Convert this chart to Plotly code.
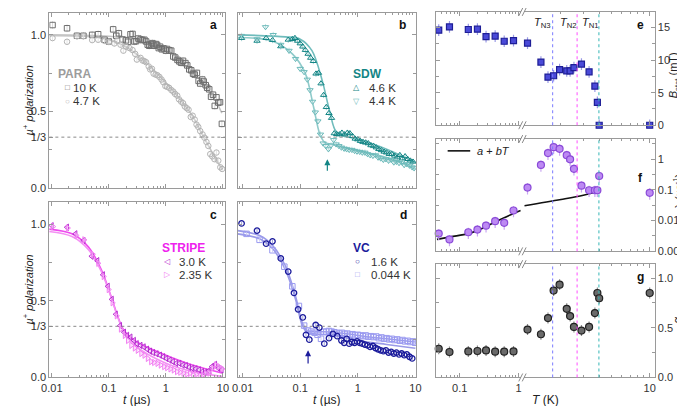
import plotly.graph_objects as go
import math

# ---------------- data: panels a-d (t in microseconds, muon polarization) ----------------
t_10K = [0.0103,0.0185,0.0276,0.0358,0.051,0.065,0.084,0.1,0.119,0.135,0.15,0.174,0.2,0.217,0.24,0.26,0.28,0.30,0.33,0.36,0.39,0.42,0.45,0.48,0.51,0.55,0.58,0.62,0.67,0.70,0.75,0.79,0.85,0.91,1.0,1.05,1.15,1.24,1.35,1.46,1.6,1.72,1.85,2.0,2.2,2.37,2.57,2.78,3.0,3.2,3.5,3.75,4.0,4.35,4.6,5.0,5.3,5.75,6.2,6.7,7.2,7.7,8.3,8.9,9.6]
P_10K = [1.064,1.043,0.994,0.994,1.0,1.004,0.968,0.957,1.036,0.994,1.01,0.97,0.964,0.955,1.004,1.006,0.957,0.959,0.976,0.97,0.966,0.968,0.957,0.936,0.929,0.938,0.946,0.929,0.94,0.934,0.914,0.923,0.906,0.912,0.897,0.908,0.9,0.897,0.859,0.852,0.837,0.827,0.818,0.831,0.816,0.801,0.775,0.769,0.747,0.741,0.752,0.7,0.683,0.709,0.696,0.672,0.655,0.645,0.597,0.61,0.537,0.593,0.559,0.561,0.42]
t_4p7K = [0.0103,0.0185,0.0276,0.0358,0.051,0.065,0.084,0.1,0.125,0.14,0.16,0.18,0.2,0.23,0.26,0.29,0.31,0.36,0.39,0.42,0.45,0.5,0.53,0.57,0.61,0.66,0.71,0.77,0.84,0.9,0.98,1.05,1.14,1.25,1.35,1.45,1.58,1.7,1.85,2.0,2.15,2.33,2.5,2.73,2.95,3.2,3.45,3.7,4.0,4.4,4.75,5.15,5.55,6.0,6.5,7.1,7.7,8.3,9.0,9.7]
P_4p7K = [0.979,0.955,0.991,0.991,0.966,0.968,0.961,0.955,0.944,0.961,0.936,0.897,0.923,0.914,0.901,0.876,0.839,0.85,0.833,0.829,0.822,0.794,0.775,0.779,0.747,0.741,0.737,0.726,0.709,0.692,0.666,0.662,0.655,0.64,0.63,0.615,0.604,0.58,0.565,0.555,0.533,0.522,0.512,0.465,0.473,0.448,0.415,0.4,0.373,0.351,0.33,0.302,0.276,0.223,0.208,0.19,0.233,0.18,0.137,0.126]
fit_a10_t = [0.0085,0.1,0.31,0.62,1.0,1.72,2.95,5.0,7.3,9.6]
fit_a10 = [1.0,0.991,0.972,0.94,0.908,0.833,0.758,0.662,0.576,0.49]
fit_a47_t = [0.0085,0.065,0.16,0.36,0.62,1.0,1.72,2.95,4.35,6.5,9.6]
fit_a47 = [0.994,0.983,0.94,0.854,0.769,0.687,0.587,0.469,0.351,0.233,0.126]

t_4p6K = [0.0096,0.0178,0.0256,0.033,0.046,0.062,0.073,0.081,0.09,0.1,0.111,0.123,0.137,0.152,0.169,0.188,0.208,0.23,0.255,0.284,0.316,0.35,0.39,0.43,0.48,0.53,0.59,0.66,0.73,0.81,0.9,1.0,1.11,1.23,1.37,1.52,1.69,1.88,2.09,2.32,2.57,2.86,3.16,3.52,3.9,4.35,4.83,5.37,5.96,6.63,7.36,8.18,9.1]
P_4p6K = [0.979,0.961,0.979,0.966,0.925,0.968,0.972,0.979,0.961,0.944,0.923,0.901,0.876,0.85,0.829,0.747,0.752,0.683,0.608,0.529,0.49,0.458,0.358,0.353,0.351,0.362,0.351,0.362,0.358,0.34,0.323,0.319,0.308,0.302,0.298,0.293,0.28,0.276,0.266,0.255,0.248,0.238,0.233,0.223,0.223,0.212,0.201,0.216,0.195,0.208,0.19,0.18,0.173]
t_4p4K = [0.0096,0.0178,0.025,0.034,0.046,0.064,0.083,0.1,0.117,0.133,0.148,0.164,0.183,0.203,0.225,0.25,0.278,0.309,0.343,0.38,0.42,0.47,0.52,0.58,0.64,0.71,0.79,0.88,0.97,1.08,1.2,1.33,1.48,1.64,1.83,2.03,2.25,2.5,2.78,3.08,3.42,3.8,4.22,4.68,5.2,5.77,6.4,7.1,7.9,8.8,9.5]
P_4p4K = [0.994,0.972,1.051,1.0,0.936,0.897,0.844,0.779,0.758,0.709,0.64,0.565,0.495,0.437,0.351,0.293,0.276,0.255,0.28,0.315,0.287,0.276,0.266,0.259,0.255,0.251,0.251,0.244,0.24,0.238,0.233,0.233,0.223,0.216,0.212,0.216,0.201,0.195,0.186,0.19,0.18,0.186,0.169,0.173,0.165,0.169,0.152,0.158,0.148,0.137,0.131]
fit_b46_t = [0.0082,0.056,0.1,0.16,0.24,0.31,0.40,0.49,1.0,3.16,10]
fit_b46 = [1.0,0.987,0.972,0.897,0.705,0.533,0.383,0.351,0.319,0.255,0.169]
fit_b44_t = [0.0082,0.0316,0.073,0.123,0.17,0.22,0.27,0.35,1.0,3.16,10]
fit_b44 = [0.983,0.961,0.876,0.747,0.533,0.351,0.298,0.287,0.244,0.201,0.126]

t_3p0K = [0.01,0.0185,0.026,0.036,0.05,0.063,0.079,0.096,0.113,0.133,0.158,0.185,0.21,0.24,0.276,0.31,0.36,0.41,0.47,0.53,0.6,0.69,0.79,0.9,1.02,1.17,1.33,1.52,1.73,1.98,2.25,2.56,2.92,3.33,3.8,4.33,4.94,5.63,6.42,7.32,8.34,9.5]
P_3p0K = [0.989,0.979,0.936,0.893,0.79,0.761,0.669,0.594,0.509,0.412,0.338,0.295,0.274,0.263,0.241,0.22,0.209,0.199,0.184,0.171,0.162,0.154,0.145,0.135,0.124,0.113,0.103,0.092,0.092,0.081,0.077,0.066,0.06,0.056,0.049,0.038,0.034,0.043,0.071,0.085,0.06,0.049]
t_2p35K = [0.0105,0.019,0.027,0.037,0.052,0.065,0.081,0.099,0.116,0.137,0.162,0.19,0.216,0.247,0.284,0.32,0.37,0.42,0.48,0.55,0.62,0.71,0.81,0.93,1.05,1.2,1.37,1.56,1.78,2.03,2.31,2.63,3.0,3.42,3.9,4.45,5.07,5.78,6.6,7.52,8.57,9.75]
P_2p35K = [0.983,0.974,0.925,0.897,0.803,0.744,0.658,0.573,0.487,0.402,0.316,0.274,0.241,0.209,0.192,0.177,0.156,0.145,0.124,0.103,0.098,0.092,0.081,0.071,0.064,0.056,0.049,0.038,0.034,0.028,0.021,0.026,0.017,0.021,0.013,0.017,0.024,0.028,0.06,0.081,0.071,0.056]
fit_c_t = [0.0082,0.0226,0.044,0.074,0.109,0.142,0.185,0.31,1.0,2.92,10]
fit_c30 = [0.968,0.936,0.85,0.701,0.53,0.402,0.306,0.231,0.145,0.081,0.028]
fit_c235 = [0.953,0.919,0.833,0.69,0.526,0.397,0.295,0.199,0.092,0.038,0.006]

t_1p6K = [0.0096,0.0178,0.0256,0.033,0.046,0.062,0.078,0.092,0.111,0.126,0.144,0.186,0.215,0.262,0.316,0.37,0.44,0.52,0.58,0.64,0.71,0.79,0.88,0.97,1.08,1.2,1.33,1.48,1.64,1.83,2.03,2.25,2.5,2.78,3.08,3.42,3.8,4.22,4.68,5.2,5.77,6.4,7.1,7.9,8.8]
P_1p6K = [1.004,0.957,0.872,0.887,0.776,0.69,0.551,0.444,0.391,0.278,0.246,0.342,0.325,0.22,0.256,0.284,0.269,0.241,0.226,0.252,0.22,0.231,0.226,0.235,0.226,0.22,0.214,0.209,0.199,0.205,0.192,0.184,0.177,0.171,0.177,0.162,0.167,0.156,0.162,0.15,0.156,0.145,0.15,0.135,0.124]
t_0p044K = [0.0117,0.0197,0.033,0.053,0.073,0.095,0.117,0.137,0.156,0.178,0.2,0.23,0.256,0.284,0.316,0.35,0.39,0.43,0.48,0.53,0.59,0.66,0.73,0.81,0.9,1.0,1.11,1.23,1.37,1.52,1.69,1.88,2.09,2.32,2.57,2.86,3.16,3.52,3.9,4.35,4.83,5.37,5.96,6.63,7.36,8.18,9.1,9.9]
P_0p044K = [0.936,0.897,0.829,0.722,0.594,0.466,0.338,0.306,0.299,0.291,0.278,0.252,0.297,0.299,0.303,0.299,0.295,0.291,0.286,0.291,0.284,0.286,0.278,0.282,0.274,0.278,0.274,0.269,0.274,0.265,0.269,0.263,0.267,0.256,0.261,0.252,0.256,0.248,0.252,0.244,0.248,0.239,0.244,0.235,0.239,0.231,0.235,0.226]
fit_d_t = [0.0082,0.0197,0.033,0.056,0.083,0.108,0.131,0.18,0.4,1.0,3.16,10]
fit_d1 = [0.957,0.925,0.861,0.722,0.53,0.359,0.306,0.299,0.295,0.274,0.252,0.231]
fit_d2 = [0.936,0.904,0.84,0.697,0.509,0.342,0.295,0.284,0.274,0.241,0.215,0.19]

# ---------------- data: panels e-g (T in K) ----------------
T_low = [0.044,0.067,0.14,0.20,0.28,0.40,0.57,0.82]
T_high = [1.09,1.39,1.58,1.75,1.95,2.22,2.36,2.53,2.9,3.33,3.70,3.87,4.0,10.0]
Bstat_low = [14.6,15.1,14.7,14.75,13.6,13.7,12.9,13.0]
Bstat_high = [12.6,9.7,7.4,7.6,8.55,8.35,8.35,8.85,9.4,8.2,6.0,3.5,0.0,0.0]
lam_low = [0.0037,0.0024,0.0041,0.005,0.0067,0.0094,0.0083,0.021]
lam_high = [0.117,0.64,1.56,2.43,2.15,1.34,0.98,0.48,0.135,0.096,0.096,0.096,0.28,0.079]
alpha_low = [0.289,0.256,0.262,0.266,0.272,0.259,0.259,0.262]
alpha_high = [0.482,0.435,0.598,0.874,0.934,0.691,0.618,0.508,0.472,0.508,0.648,0.85,0.797,0.85]
fitlin_T_low = [0.041,0.07,0.14,0.2,0.4,0.8,1.08]
fitlin_low = [0.0024,0.0029,0.0037,0.0047,0.0088,0.0165,0.021]
fitlin_T_high = [1.03,2.0,3.0,4.0]
fitlin_high = [0.030,0.048,0.066,0.089]
T_N = {"N3": 1.72, "N2": 2.68, "N1": 3.98}

# ---------------- styling ----------------
FONT = "Liberation Sans, Arial, sans-serif"
AX = "#9a9a9a"
W, H = 685, 406

def fx(p):
    return p / W

def fy(p):
    return 1 - p / H

fig = go.Figure()

def sc(x, y, xa, ya, **kw):
    fig.add_trace(go.Scatter(x=x, y=y, xaxis=xa, yaxis=ya, showlegend=False, **kw))

def pts(x, y, xa, ya, sym, col, ecol, err, lw=1):
    sc(x, y, xa, ya, mode="markers",
       marker=dict(symbol=sym, size=5.5, color=col, line=dict(width=lw, color=col)),
       error_y=dict(type="constant", value=err, color=ecol, thickness=0.8, width=0))

def fitline(x, y, xa, ya, col, w=1.6):
    sc(x, y, xa, ya, mode="lines", line=dict(color=col, width=w, shape="spline", smoothing=0.9),
       hoverinfo="skip")

# panel a
fitline(fit_a10_t, fit_a10, "x", "y", "#c4c4c4")
fitline(fit_a47_t, fit_a47, "x", "y", "#c4c4c4")
pts(t_10K, P_10K, "x", "y", "square-open", "#6e6e6e", "#cfcfcf", 0.025)
pts(t_4p7K, P_4p7K, "x", "y", "circle-open", "#b4b4b4", "#dedede", 0.02)
# panel b
fitline(fit_b46_t, fit_b46, "x2", "y2", "#6fbcbc")
fitline(fit_b44_t, fit_b44, "x2", "y2", "#8fcaca")
pts(t_4p6K, P_4p6K, "x2", "y2", "triangle-up-open", "#138585", "#8cc6c6", 0.02)
pts(t_4p4K, P_4p4K, "x2", "y2", "triangle-down-open", "#6cbaba", "#b5dcdc", 0.02)
# panel c
fitline(fit_c_t, fit_c30, "x3", "y3", "#ee4aee")
fitline(fit_c_t, fit_c235, "x3", "y3", "#f490f4")
pts(t_3p0K, P_3p0K, "x3", "y3", "triangle-left-open", "#b62ad0", "#e6a8ee", 0.015)
pts(t_2p35K, P_2p35K, "x3", "y3", "triangle-right-open", "#f27ef2", "#f8c4f8", 0.015)
# panel d
fitline(fit_d_t, fit_d1, "x4", "y4", "#9a9ae8")
fitline(fit_d_t, fit_d2, "x4", "y4", "#9a9ae8")
pts(t_0p044K, P_0p044K, "x4", "y4", "square-open", "#9a9af0", "#c8c8f6", 0.012)
pts(t_1p6K, P_1p6K, "x4", "y4", "circle-open", "#1c1c9c", "#9090d0", 0.012, lw=1.3)

# panels e-g
def tpts(x, y, xa, ya, sym, fill, edge, size, err):
    sc(x, y, xa, ya, mode="markers", cliponaxis=False,
       marker=dict(symbol=sym, size=size, color=fill, line=dict(width=1.2, color=edge)),
       error_y=err)

e_err = dict(type="constant", value=0.9, color="#9a9ae6", thickness=1.2, width=0)
f_err = dict(type="percent", value=40, color="#caa6f2", thickness=1.2, width=0)
g_err = dict(type="constant", value=0.055, color="#8a8a8a", thickness=1.2, width=0)
tpts(T_low, Bstat_low, "x5", "y5", "square", "#4a4ad8", "#1e1e96", 6, e_err)
tpts(T_high, Bstat_high, "x6", "y6", "square", "#4a4ad8", "#1e1e96", 6, e_err)
sc(fitlin_T_low, fitlin_low, "x7", "y7", mode="lines", line=dict(color="#111", width=1.6, shape="spline"))
sc(fitlin_T_high, fitlin_high, "x8", "y8", mode="lines", line=dict(color="#111", width=1.6, shape="spline"))
tpts(T_low, lam_low, "x7", "y7", "circle", "#bd8af3", "#8a4ad8", 7, f_err)
tpts(T_high, lam_high, "x8", "y8", "circle", "#bd8af3", "#8a4ad8", 7, f_err)
tpts(T_low, alpha_low, "x9", "y9", "circle", "#6a6a6a", "#202020", 7, g_err)
tpts(T_high, alpha_high, "x10", "y10", "circle", "#6a6a6a", "#202020", 7, g_err)

# ---------------- axes ----------------
base = dict(showline=True, linecolor=AX, linewidth=1, ticks="inside", tickcolor=AX, ticklen=4,
            tickwidth=1, showgrid=False, zeroline=False,
            tickfont=dict(family=FONT, size=11, color="#333"))
log_minor = [m * 10 ** e for e in range(-3, 2) for m in range(2, 10)]
minor_log = dict(ticks="inside", ticklen=2, tickcolor=AX, tickvals=log_minor)

def taxis(x0, x1, rng, labels, anchor):
    return dict(base, type="log", domain=[fx(x0), fx(x1)], range=rng, anchor=anchor,
                tickvals=[0.01, 0.1, 1, 10], ticktext=["0.01", "0.1", "1", "10"],
                showticklabels=labels, mirror="allticks", minor=minor_log)

def paxis(y0, y1, labels, anchor):
    return dict(base, domain=[fy(y1), fy(y0)], range=[0, 1.143], anchor=anchor,
                tickvals=[0, 1 / 3, 0.5, 1.0], ticktext=["0.0", "1/3", "0.5", "1.0"],
                showticklabels=labels, mirror="allticks",
                minor=dict(ticks="inside", ticklen=3, tickcolor=AX, tickvals=[0.25, 0.75]))

rng_ac = [-2.043, 1.036]
rng_bd = [-2.085, 1.015]
lay = dict(
    xaxis=taxis(34, 213, rng_ac, False, "y"), yaxis=paxis(5, 183, True, "x"),
    xaxis2=taxis(226, 408, rng_bd, False, "y2"), yaxis2=paxis(5, 183, False, "x2"),
    xaxis3=taxis(34, 213, rng_ac, True, "y3"), yaxis3=paxis(197, 375, True, "x3"),
    xaxis4=taxis(226, 408, rng_bd, True, "y4"), yaxis4=paxis(197, 375, False, "x4"),
)

rows = {  # (left x id, right x id, y-top px, y-bottom px, y settings)
    "e": (5, 6, 4, 119, dict(range=[0, 17.4], tickvals=[0, 5, 10, 15], ticktext=["0", "5", "10", "15"],
                             minor=dict(ticks="inside", ticklen=3, tickcolor=AX, tickvals=[2.5, 7.5, 12.5]))),
    "f": (7, 8, 133, 247, dict(type="log", range=[-3.01, 0.652], tickvals=[0.001, 0.01, 0.1, 1],
                               ticktext=["0.001", "0.01", "0.1", "1"],
                               minor=dict(ticks="inside", ticklen=3, tickcolor=AX,
                                          tickvals=[0.00316, 0.0316, 0.316, 3.16]))),
    "g": (9, 10, 260, 375, dict(range=[0, 1.14], tickvals=[0, 0.5, 1.0], ticktext=["0.0", "0.5", "1.0"],
                                minor=dict(ticks="inside", ticklen=3, tickcolor=AX, tickvals=[0.25, 0.75]))),
}
for key, (il, ir, yt, yb, yset) in rows.items():
    lab = key == "g"
    lay[f"xaxis{il}"] = dict(base, type="log", domain=[fx(428), fx(515)], range=[-1.405, 0.045],
                             anchor=f"y{il}", tickvals=[0.1, 1], ticktext=["0.1", "1"],
                             showticklabels=lab, mirror="allticks", minor=minor_log)
    lay[f"xaxis{ir}"] = dict(base, type="log", domain=[fx(518), fx(651)], range=[0.011, 1.039],
                             anchor=f"y{ir}", tickvals=[10], ticktext=["10"],
                             showticklabels=lab, mirror="allticks", minor=minor_log)
    lay[f"yaxis{il}"] = dict(base, domain=[fy(yb), fy(yt)], anchor=f"x{il}", side="left",
                             showticklabels=False, **yset)
    lay[f"yaxis{ir}"] = dict(base, domain=[fy(yb), fy(yt)], anchor=f"x{ir}", side="right",
                             showticklabels=True, **yset)

# ---------------- shapes ----------------
shapes = []
for ya, xa in [("y", "x"), ("y2", "x2"), ("y3", "x3"), ("y4", "x4")]:
    shapes.append(dict(type="line", xref=f"{xa} domain", yref=ya, x0=0, x1=1, y0=1 / 3, y1=1 / 3,
                       line=dict(color="#8a8a8a", width=1, dash="dot")))
tn_cols = {"N3": "#7b7bff", "N2": "#ff4dff", "N1": "#33b5b5"}
for xr in (6, 8, 10):
    for k, T in T_N.items():
        shapes.append(dict(type="line", xref=f"x{xr}", yref=f"y{xr} domain", x0=T, x1=T, y0=0, y1=1,
                           line=dict(color=tn_cols[k], width=1, dash="dot")))
# legend key line for a + bT
shapes.append(dict(type="line", xref="paper", yref="paper", x0=fx(440), x1=fx(463), y0=fy(145), y1=fy(145),
                   line=dict(color="#111", width=1.6)))
# axis break marks "//"
for yb in (4, 119, 133, 247, 260, 375):
    for dx in (0, 3.5):
        shapes.append(dict(type="line", xref="paper", yref="paper",
                           x0=fx(512.5 + dx), x1=fx(516.5 + dx), y0=fy(yb + 4), y1=fy(yb - 4),
                           line=dict(color="#8a8a8a", width=1)))

# ---------------- annotations ----------------
anns = []

def ann(x, y, text, size=11, color="#222", xanchor="center", angle=0, **kw):
    anns.append(dict(x=fx(x), y=fy(y), xref="paper", yref="paper", text=text, showarrow=False,
                     xanchor=xanchor, yanchor="middle", textangle=angle, borderpad=0,
                     font=dict(family=FONT, size=size, color=color), **kw))

for letter, x, y in [("a", 201, 17), ("b", 394, 17), ("c", 201, 210), ("d", 395, 210),
                     ("e", 637, 17), ("f", 637, 173), ("g", 637, 273)]:
    ann(x, y, f"<b>{letter}</b>", size=12, color="#111")

# legends (text + symbol glyphs)
def legend(x_title, y_title, title, tcol, x_sym, x_txt, entries):
    ann(x_title, y_title, f"<b>{title}</b>", size=12, color=tcol, xanchor="left")
    for (y, glyph, gcol, lab) in entries:
        ann(x_sym, y, glyph, size=8, color=gcol)
        ann(x_txt, y, lab, size=11.5, color="#333", xanchor="left")

legend(42, 67, "PARA", "#9c9c9c", 52.5, 57.5,
       [(81, "□", "#6e6e6e", "10 K"), (94.5, "○", "#b4b4b4", "4.7 K")])
legend(342, 67, "SDW", "#138585", 347, 359,
       [(81, "△", "#138585", "4.6 K"), (94.5, "▽", "#6cbaba", "4.4 K")])
legend(148, 243.5, "STRIPE", "#ee22ee", 154, 165,
       [(257.5, "◁", "#b62ad0", "3.0 K"), (271, "▷", "#f27ef2", "2.35 K")])
legend(343, 243.5, "VC", "#1c1c9c", 348, 360.5,
       [(257.5, "○", "#1c1c9c", "1.6 K"), (271, "□", "#9a9af0", "0.044 K")])
ann(469, 145, "<i>a</i> + <i>bT</i>", size=11, color="#222", xanchor="left")

# axis titles
ann(12, 94, "<i>µ</i><sup>+</sup> <i>polarization</i>", angle=-90)
ann(12, 286, "<i>µ</i><sup>+</sup> <i>polarization</i>", angle=-90)
ann(123.5, 398, "<i>t</i> (µs)", size=12)
ann(317, 398, "<i>t</i> (µs)", size=12)
ann(540, 398, "<i>T</i> (K)", size=12)
ann(671, 68, "<i>B</i><sub>stat</sub> (mT)", angle=-90)
ann(675, 186, "λ (µs<sup>-1</sup>)", angle=-90)
ann(675, 317, "α", size=12, angle=-90)

# transition temperature labels
ann(537, 15, "<i>T</i><sub>N3</sub>", size=11)
ann(563, 15, "<i>T</i><sub>N2</sub>", size=11)
ann(586, 15, "<i>T</i><sub>N1</sub>", size=11)

# arrows in b and d
for xa, ya, t, ytip, ytail, col in [("x2", "y2", 0.296, 0.19, 0.105, "#138585"),
                                    ("x4", "y4", 0.137, 0.177, 0.081, "#1c1c9c")]:
    anns.append(dict(x=math.log10(t), y=ytip, xref=xa, yref=ya, ax=math.log10(t), ay=ytail,
                     axref=xa, ayref=ya, showarrow=True, arrowhead=2, arrowsize=1, arrowwidth=1.2,
                     arrowcolor=col, text=""))

fig.update_layout(
    width=W, height=H, margin=dict(l=0, r=0, t=0, b=0),
    paper_bgcolor="white", plot_bgcolor="white", showlegend=False,
    font=dict(family=FONT, size=11, color="#222"),
    shapes=shapes, annotations=anns, **lay,
)
fig.write_html("out.html")
